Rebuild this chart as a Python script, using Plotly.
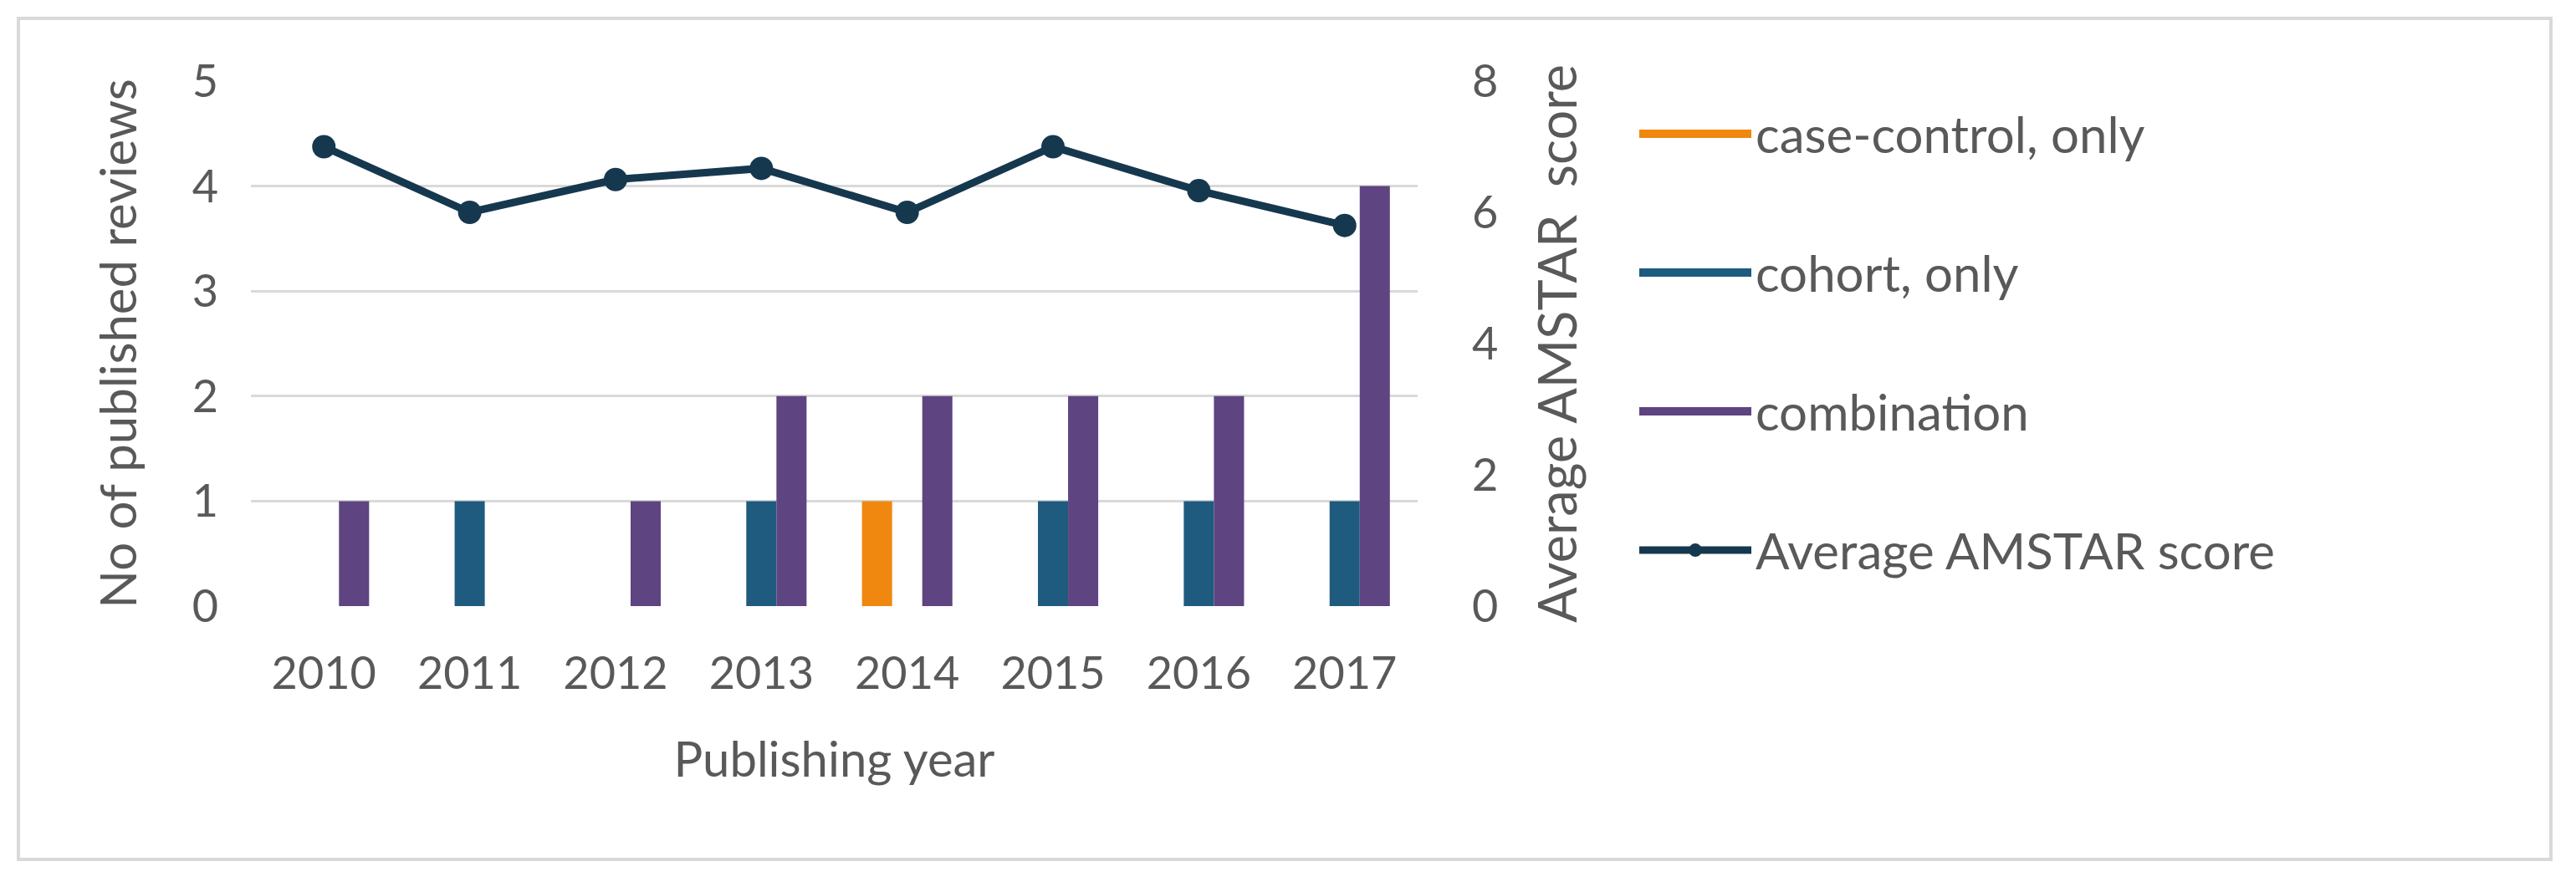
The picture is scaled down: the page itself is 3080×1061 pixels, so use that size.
import plotly.graph_objects as go

years = ["2010", "2011", "2012", "2013", "2014", "2015", "2016", "2017"]
case_control_only = [0, 0, 0, 0, 1, 0, 0, 0]
cohort_only = [0, 1, 0, 1, 0, 1, 1, 1]
combination = [1, 0, 1, 2, 2, 2, 2, 4]
avg_amstar = [7.0, 6.0, 6.5, 6.67, 6.0, 7.0, 6.33, 5.8]

series_names = ["case-control, only", "cohort, only", "combination"]
series_values = [case_control_only, cohort_only, combination]
series_colors = ["#F0880F", "#1E5B7E", "#5E4480"]
line_color = "#16384F"
text_color = "#595959"
grid_color = "#D9D9D9"
FONT = "Lato"

# page body has an 8px margin, so the figure is drawn 8px smaller
OFF = 8
W, H = 3080 - OFF, 1061 - OFF
ML, MT = 300 - OFF, 97 - OFF
PW, PH = 1395, 628
MR, MB = W - ML - PW, H - MT - PH

fig = go.Figure()

for name, vals, col in zip(series_names, series_values, series_colors):
    fig.add_trace(go.Bar(
        x=years, y=vals, name=name, marker=dict(color=col, line=dict(width=0)),
        yaxis="y", showlegend=False, legendgroup=name,
    ))

fig.add_trace(go.Scatter(
    x=years, y=avg_amstar, name="Average AMSTAR score", mode="lines+markers",
    line=dict(color=line_color, width=9), marker=dict(color=line_color, size=28),
    yaxis="y2", legendgroup="line", legendrank=10,
))

# legend entries for the bar series (wide swatches like the original)
for i, (name, col) in enumerate(zip(series_names, series_colors)):
    fig.add_trace(go.Scatter(
        x=[None], y=[None], name=name, mode="lines",
        line=dict(color=col, width=10), legendgroup=name, showlegend=True,
        legendrank=i,
    ))

fig.update_layout(
    width=W, height=H,
    margin=dict(l=ML, r=MR, t=MT, b=MB, autoexpand=False),
    paper_bgcolor="white", plot_bgcolor="white",
    font=dict(family=FONT, color=text_color, size=54),
    barmode="group", bargap=0.38, bargroupgap=0,
    xaxis=dict(
        type="category", showgrid=False, zeroline=False, showline=False,
        tickfont=dict(size=54, color=text_color), ticks="", ticklabelstandoff=44,
        title=dict(text="Publishing year", font=dict(size=58, color=text_color), standoff=53),
    ),
    yaxis=dict(
        range=[0, 5], dtick=1, showgrid=True, gridcolor=grid_color, gridwidth=3,
        zeroline=False, showline=False, ticks="",
        tickfont=dict(size=54, color=text_color), ticklabelstandoff=38,
        title=dict(text="No of published reviews",
                   font=dict(size=60, color=text_color), standoff=46),
    ),
    yaxis2=dict(
        overlaying="y", side="right", range=[0, 8], dtick=2, showgrid=False,
        zeroline=False, showline=False, ticks="",
        tickfont=dict(size=54, color=text_color), ticklabelstandoff=64,
        title=dict(text="Average AMSTAR  score",
                   font=dict(size=63, color=text_color), standoff=50),
    ),
    legend=dict(
        x=(1955 - OFF - ML) / PW, xanchor="left",
        y=0.972, yanchor="top",
        font=dict(size=60, color=text_color),
        itemwidth=134, traceorder="grouped", tracegroupgap=85,
        bgcolor="rgba(0,0,0,0)",
    ),
    showlegend=True,
)

# decorative outer frame of the chart area
fig.add_shape(
    type="rect", xref="paper", yref="paper", layer="below",
    x0=(22 - OFF - ML) / PW, x1=(3050 - OFF - ML) / PW,
    y0=(MT + PH - (1028 - OFF)) / PH, y1=(MT + PH - (22 - OFF)) / PH,
    line=dict(color="#D9D9D9", width=4), fillcolor="rgba(0,0,0,0)",
)

fig.write_html("out.html")
